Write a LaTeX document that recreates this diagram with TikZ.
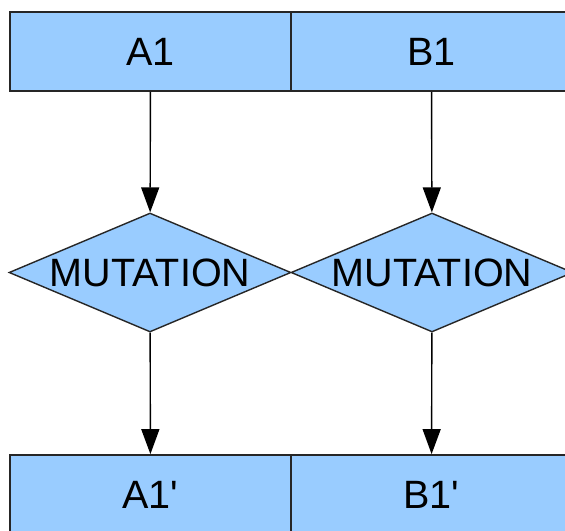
\documentclass[tikz,border=0pt]{standalone}
\usepackage{fontspec}
\setmainfont{Liberation Sans}
\usetikzlibrary{shapes.geometric,arrows.meta}
\definecolor{cellblue}{HTML}{99CCFF}

\begin{document}
\begin{tikzpicture}[x=0.02cm,y=-0.02cm,
    genebox/.style={draw=black!85,fill=cellblue,line width=1pt,
      minimum width=5.62cm,minimum height=1.58cm,inner sep=0pt,
      font=\fontsize{22.5}{26}\selectfont},
    mutbox/.style={diamond,draw=black!85,fill=cellblue,line width=0.8pt,
      aspect=2.37,minimum width=5.64cm,minimum height=2.38cm,inner sep=0pt,
      font=\fontsize{22.5}{26}\selectfont},
    flow/.style={-{Triangle[length=0.5cm,width=0.36cm]},line width=0.8pt}]
  \useasboundingbox (0,0) rectangle (565,531);
  \clip (0,0) rectangle (565,531);
  % parents
  \node[genebox] (a1) at (150.5,51.5) {A1};
  \node[genebox] (b1) at (431.5,51.5) {B1};
  % mutation step
  \node[mutbox] (mutA) at (150,272.5) {MUTATION};
  \node[mutbox] (mutB) at (432,272.5) {MUTATION};
  % children
  \node[genebox] (a1c) at (150.5,494.5) {A1\textquotesingle};
  \node[genebox] (b1c) at (431.5,494.5) {B1\textquotesingle};
  % arrows
  \draw[flow] (a1) -- (mutA);
  \draw[flow] (b1) -- (mutB);
  \draw[flow] (mutA) -- (a1c);
  \draw[flow] (mutB) -- (b1c);
\end{tikzpicture}
\end{document}
